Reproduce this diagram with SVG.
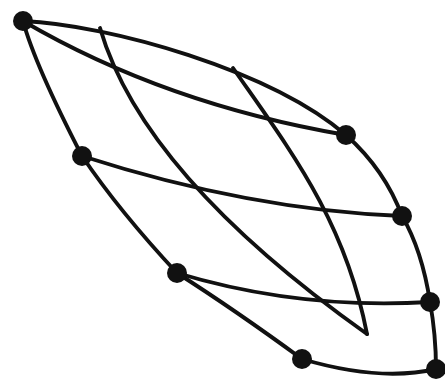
<svg xmlns="http://www.w3.org/2000/svg" width="445" height="388" viewBox="0 0 445 388">
<style>
.e{fill:none;stroke:#111;stroke-width:3.9;stroke-linecap:round;stroke-linejoin:round}
.n{fill:#111}
</style>
<rect width="445" height="388" fill="#fff"/>
<g id="connectors">
<path class="e" d="M23,21 C110,25 270,70 346,135"/>
<path class="e" d="M23,21 Q165,104 346,135"/>
<path class="e" d="M23,21 Q35,65 82,156"/>
<path class="e" d="M82,156 Q120,212 177,273"/>
<path class="e" d="M177,273 Q235,310 302,359"/>
<path class="e" d="M302,359 Q380,382 436,369"/>
<path class="e" d="M346,135 Q385,170 402,216"/>
<path class="e" d="M402,216 Q422,250 430,302"/>
<path class="e" d="M430,302 Q436,335 436,369"/>
<path class="e" d="M82,156 Q250,210 402,216"/>
<path class="e" d="M177,273 Q300,310 430,302"/>
<path class="e" d="M100,28 Q143,175 367,334"/>
<path class="e" d="M233,68 C290,150 345,220 367,334"/>
</g>
<g id="A"><circle class="n" cx="23" cy="21" r="10"/></g>
<g id="B"><circle class="n" cx="346" cy="135" r="10"/></g>
<g id="C"><circle class="n" cx="82" cy="156" r="10"/></g>
<g id="D"><circle class="n" cx="402" cy="216" r="10"/></g>
<g id="E"><circle class="n" cx="177" cy="273" r="10"/></g>
<g id="F"><circle class="n" cx="430" cy="302" r="10"/></g>
<g id="G"><circle class="n" cx="302" cy="359" r="10"/></g>
<g id="H"><circle class="n" cx="436" cy="369" r="10"/></g>
</svg>
